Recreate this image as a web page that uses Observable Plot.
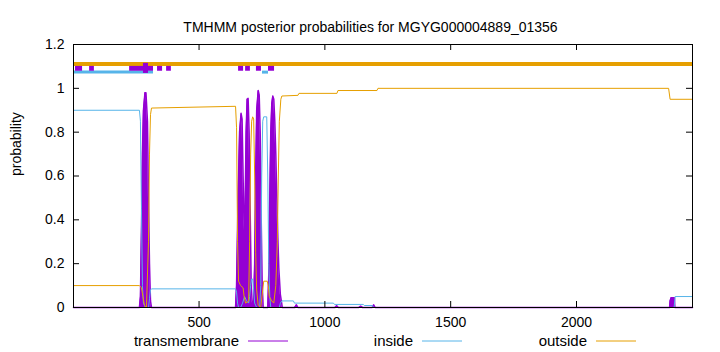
<!DOCTYPE html>
<html><head><meta charset="utf-8">
<script src="https://cdn.jsdelivr.net/npm/d3@7"></script>
<script src="https://cdn.jsdelivr.net/npm/@observablehq/plot@0.6"></script>
<style>body{margin:0;background:#fff} svg{display:block}</style>
</head><body><div id="chart"></div>
<script>
const title = "TMHMM posterior probabilities for MGYG000004889_01356";
const yLabel = "probability";
const seqLength = 2461;
const xTicks = [500, 1000, 1500, 2000];
const yTicks = [0, 0.2, 0.4, 0.6, 0.8, 1, 1.2];
const seriesNames = ["transmembrane", "inside", "outside"];
const seriesColors = ["#9400d3", "#56b4e9", "#e69f00"];

// posterior probability curves: [residue position, probability]
const tmPoints = [[1,0],[263,0],[267,0.05],[271,0.35],[275,0.7],[279,0.9],[285,0.98],[289,0.98],[295,0.85],[299,0.5],[303,0.2],[307,0.03],[311,0],
  [645,0],[649,0.1],[655,0.5],[661,0.8],[667,0.886],[671,0.86],[675,0.6],[679,0.35],[683,0.45],[687,0.8],[691,0.95],[695,0.954],[699,0.8],[703,0.45],[707,0.12],[711,0.02],[717,0.03],[721,0.2],[725,0.6],[729,0.9],[735,0.99],[739,0.97],[743,0.8],[747,0.4],[751,0.1],[755,0],[773,0],[777,0.15],[781,0.5],[785,0.8],[789,0.93],[793,0.965],[797,0.95],[801,0.85],[805,0.7],[809,0.5],[813,0.32],[817,0.18],[823,0.06],[831,0],
  [880,0],[887,0.012],[893,0],[1040,0],[1047,0.008],[1054,0],[1135,0],[1142,0.006],[1150,0],[1188,0],[1194,0.012],[1200,0],
  [2370,0],[2372,0.03],[2376,0.045],[2389,0.045],[2391,0],[2461,0]];
const insidePoints = [[1,0.9],[263,0.9],[267,0.85],[271,0.45],[275,0.1],[279,0.02],[287,0],[299,0],[303,0.04],[307,0.08],[311,0.085],[645,0.085],[649,0.07],[653,0.02],[657,0],[665,0],[673,0.02],[681,0.05],[689,0.03],[697,0.02],[701,0.05],[705,0.1],[709,0.13],[713,0.13],[717,0.08],[721,0.02],[729,0],[741,0],[745,0.1],[749,0.6],[753,0.85],[757,0.87],[769,0.87],[773,0.6],[777,0.2],[781,0.05],[785,0],[819,0],[823,0.02],[829,0.03],[875,0.03],[879,0.02],[1034,0.02],[1038,0.014],[1153,0.014],[1157,0.009],[1189,0.009],[1193,0],[2388,0],[2392,0.05],[2461,0.05]];
const outsidePoints = [[1,0.1],[263,0.1],[271,0.09],[277,0.05],[283,0.01],[291,0],[299,0.3],[303,0.7],[307,0.88],[311,0.91],[645,0.918],[649,0.82],[653,0.3],[657,0.12],[665,0.1],[675,0.09],[679,0.05],[685,0.02],[697,0.03],[701,0.3],[705,0.7],[709,0.85],[713,0.87],[717,0.86],[721,0.6],[725,0.25],[729,0.08],[735,0.01],[745,0],[753,0.08],[757,0.12],[771,0.12],[775,0.1],[779,0.05],[789,0.03],[797,0.02],[805,0.1],[811,0.3],[815,0.6],[819,0.85],[825,0.95],[829,0.965],[893,0.968],[897,0.977],[1048,0.977],[1052,0.99],[1207,0.99],[1211,1.0],[2366,1.0],[2372,0.95],[2461,0.95]];

// predicted topology segments at the top: [start, end]
const topOutside = [[1, 2461]];
const topInside = [[1, 319], [752, 776]];
const topTM = [[9,37],[65,84],[224,319],[335,355],[371,390],[657,677],[685,704],[728,748],[776,800]];
const topTMCore = [[279, 299]];

const toObj = a => a.map(([pos, p]) => ({pos, p}));
const tm = toObj(tmPoints), inside = toObj(insidePoints), outside = toObj(outsidePoints);
const [cTM, cIn, cOut] = seriesColors;
const font = "'Liberation Sans', Arial, Helvetica, sans-serif";
const fmt = d => String(+d.toFixed(1));

const plot = Plot.plot({
  width: 720, height: 352,
  marginLeft: 73, marginRight: 28, marginTop: 44, marginBottom: 45,
  style: {fontFamily: font, fontSize: "14px", background: "white", color: "black"},
  x: {domain: [1, seqLength]},
  y: {domain: [0, 1.2]},
  marks: [
    Plot.areaY(tm, {x: "pos", y: "p", fill: cTM, curve: "linear"}),
    Plot.lineY(tm, {x: "pos", y: "p", stroke: cTM, strokeWidth: 1.5}),
    Plot.lineY(inside, {x: "pos", y: "p", stroke: cIn, strokeWidth: 1}),
    Plot.lineY(outside, {x: "pos", y: "p", stroke: cOut, strokeWidth: 1}),
    Plot.ruleY(topOutside, {y: 1.111, x1: d => d[0], x2: d => d[1], stroke: cOut, strokeWidth: 4}),
    Plot.ruleY(topInside, {y: 1.074, x1: d => d[0], x2: d => d[1], stroke: cIn, strokeWidth: 3}),
    Plot.rect(topTM, {x1: d => d[0], x2: d => d[1], y1: 1.078, y2: 1.100, fill: cTM}),
    Plot.rect(topTMCore, {x1: d => d[0], x2: d => d[1], y1: 1.068, y2: 1.114, fill: cTM}),
    Plot.frame({stroke: "black", strokeWidth: 1}),
    Plot.tickX(xTicks, {x: d => d, insetTop: 257, stroke: "black"}),
    Plot.tickX(xTicks, {x: d => d, insetBottom: 257, stroke: "black"}),
    Plot.tickY(yTicks, {y: d => d, insetRight: 613, stroke: "black"}),
    Plot.tickY(yTicks, {y: d => d, insetLeft: 613, stroke: "black"}),
    Plot.axisX({ticks: xTicks, tickSize: 0, tickPadding: 10, tickFormat: d => String(d), label: null, fontSize: 14}),
    Plot.axisY({ticks: yTicks, tickSize: 0, tickPadding: 9, tickFormat: fmt, label: null, fontSize: 14}),
    Plot.text([yLabel], {frameAnchor: "left", rotate: -90, dx: -57, fontSize: 14}),
    Plot.text([title], {frameAnchor: "top", dy: -22, dx: -12.5, fontSize: 14})
  ]
});

// legend below the axis
const svg = d3.select(plot);
const legendTextEnd = [239, 413, 587];
const g = svg.append("g").attr("font-family", font).attr("font-size", 15);
seriesNames.forEach((name, i) => {
  const xe = legendTextEnd[i];
  g.append("text").attr("x", xe).attr("y", 341).attr("dy", "0.35em")
    .attr("text-anchor", "end").attr("fill", "black").text(name);
  g.append("line").attr("x1", xe + 9).attr("x2", xe + 49)
    .attr("y1", 341).attr("y2", 341).attr("stroke", seriesColors[i]).attr("stroke-width", 1);
});
document.getElementById("chart").append(plot);
</script></body></html>
